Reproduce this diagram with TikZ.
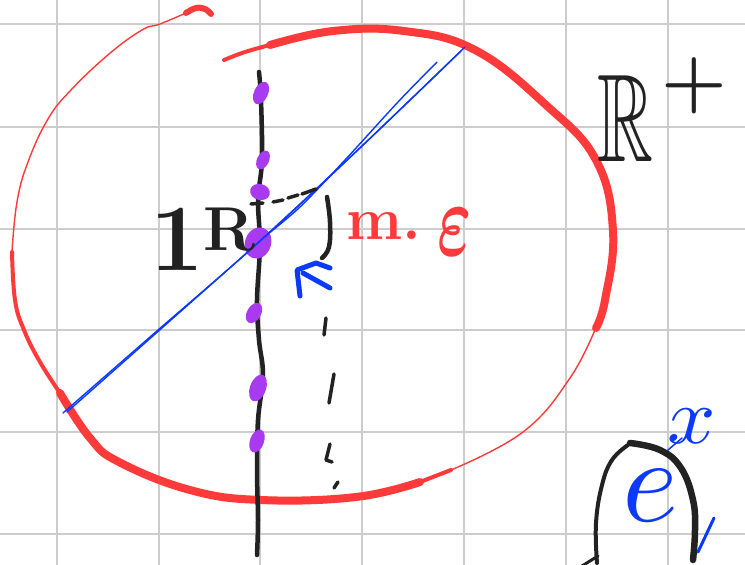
\documentclass[tikz,border=0pt]{standalone}
\usepackage{amsmath}
\usepackage{amssymb}
\definecolor{gridc}{RGB}{205,205,205}
\definecolor{redc}{RGB}{255,58,58}
\definecolor{bluec}{RGB}{12,58,250}
\definecolor{purpc}{RGB}{168,58,240}
\definecolor{inkc}{RGB}{34,34,34}
\tikzset{
  gridline/.style={draw=gridc, line width=1.6pt},
  redthick/.style={draw=redc, line width=8pt},
  redmid/.style={draw=redc, line width=4pt},
  redthin/.style={draw=redc, line width=1.4pt},
  bluethin/.style={draw=bluec, line width=1.4pt},
  bluebold/.style={draw=bluec, line width=5pt},
  ink/.style={draw=inkc, line width=4.5pt},
  inkdash/.style={draw=inkc, line width=3.5pt},
  purpblob/.style={fill=purpc},
  label/.style={inner sep=0pt, anchor=base west},
}
\begin{document}
\begin{tikzpicture}[x=1pt,y=-1pt,line cap=round,line join=round]
\useasboundingbox[fill=white] (0,0) rectangle (745,565);
% grid
\foreach \gx in {57,159,260,362,464,566,668} \draw[gridline] (\gx,0) -- (\gx,565);
\foreach \gy in {24,127,229,330,432,534} \draw[gridline] (0,\gy) -- (745,\gy);

% red closed-ish curve
\draw[draw=redc, line width=6pt] plot[smooth,tension=0.7] coordinates {(186,13) (196,8) (205,9) (211,14)};
\draw[redthin] plot[smooth,tension=0.7] coordinates {(186,13) (160,24) (142,30) (109,54) (71,90) (48,119) (28,162) (17,202) (12,252)};
\draw[redmid] plot[smooth,tension=0.7] coordinates {(12,252) (15,300) (24,330) (40,362) (62,396)};
\draw[redthick] plot[smooth,tension=0.7] coordinates {(60,393) (90,438) (119,462) (190,490) (261,500) (356,497) (420,482)};
\draw[redmid] plot[smooth,tension=0.7] coordinates {(420,482) (451,470)};
\draw[redthin] plot[smooth,tension=0.7] coordinates {(451,470) (523,432) (570,378) (597,325)};
\draw[redthick] plot[smooth,tension=0.7] coordinates {(596,328) (605,300) (613,231) (596,160) (546,105) (475,50) (404,31) (333,31) (270,45)};
\draw[redmid] plot[smooth,tension=0.7] coordinates {(270,45) (245,52) (224,60)};

% black vertical axis
\draw[ink] plot[smooth,tension=0.6] coordinates {(259,72) (261,100) (262,160) (258,200) (260,245) (257,300) (259,340) (263,375) (258,420) (257,470) (258,520) (257,555)};

% purple marks
\fill[purpblob] (261,93) circle [x radius=7, y radius=12, rotate=-25];
\fill[purpblob] (263,160) circle [x radius=6, y radius=10, rotate=-25];
\fill[purpblob] (260,192) circle [x radius=10, y radius=8, rotate=-15];
\fill[purpblob] (258,243) circle [x radius=13, y radius=16, rotate=-20];
\fill[purpblob] (254,313) circle [x radius=7, y radius=11, rotate=-30];
\fill[purpblob] (258,388) circle [x radius=8, y radius=14, rotate=-20];
\fill[purpblob] (257,441) circle [x radius=7, y radius=12, rotate=-20];

% blue diagonal line
\draw[bluethin] plot[smooth] coordinates {(63,413) (150,337) (258,243) (360,148) (465,47)};
\draw[bluethin] plot[smooth] coordinates {(67,412) (154,335) (262,239) (364,144) (461,51)};
\draw[bluethin] plot[smooth] coordinates {(437,62) (398,102) (345,160) (300,207) (263,238)};

% black small dashes near top of blob
\draw[inkdash] (251,204) -- (263,203);
\draw[inkdash] (273,202) -- (283,200);
\draw[inkdash] (288,198) -- (298,195);
\draw[inkdash] (302,194) -- (316,189);
% bracket
\draw[ink] plot[smooth,tension=0.7] coordinates {(327,197) (330,222) (329,247) (322,258)};
% blue arrowhead
\draw[bluebold] (300,296) -- (297,270) -- (316,263) -- (330,268);
\draw[bluebold] (303,273) -- (330,288);
% dashed vertical below
\draw[inkdash] (326,318) -- (324,335);
\draw[inkdash] (334,374) -- (329,403);
\draw[inkdash] (330,444) -- (326,460) -- (332,462);
\draw[inkdash] (338,482) -- (334,488);

% labels
\node[label, text=inkc, font=\fontsize{95}{95}\selectfont\bfseries] (oner) at (150,270)
  {1\raisebox{20pt}{\fontsize{62}{62}\selectfont R}};
\node[label, text=redc, font=\fontsize{60}{60}\selectfont\bfseries] (m) at (346,239) {m.};
\node[text=redc, font=\fontsize{10}{10}\selectfont] (eps) at (455,232) {\scalebox{6.5}[10.5]{$\boldsymbol{\varepsilon}$}};
\node[text=inkc, font=\fontsize{125}{125}\selectfont] (reals) at (625,118) {\scalebox{0.62}[1]{$\mathbb{R}$}};
\node[text=inkc, font=\fontsize{75}{75}\selectfont\bfseries] (plus) at (694,86) {+};

% (e)^x
\draw[draw=inkc, line width=4pt] plot[smooth,tension=0.7] coordinates {(628,445) (612,460) (602,485) (596,523) (597,563)};
\draw[draw=inkc, line width=6.5pt] plot[smooth,tension=0.7] coordinates {(630,443) (660,450) (681,468) (693,500) (695,530) (693,560)};
\draw[draw=inkc, line width=3pt] (598,556) -- (582,566);
\node[text=bluec, font=\fontsize{10}{10}\selectfont] (ee) at (650,496) {\scalebox{12}{$e$}};
\node[text=bluec, font=\fontsize{10}{10}\selectfont] (xx) at (692,426) {\scalebox{8.5}[8]{$x$}};
\draw[draw=bluec, line width=1.5pt] (668,450) -- (682,438);
\draw[draw=bluec, line width=3pt] (714,518) -- (698,552);
\end{tikzpicture}
\end{document}
